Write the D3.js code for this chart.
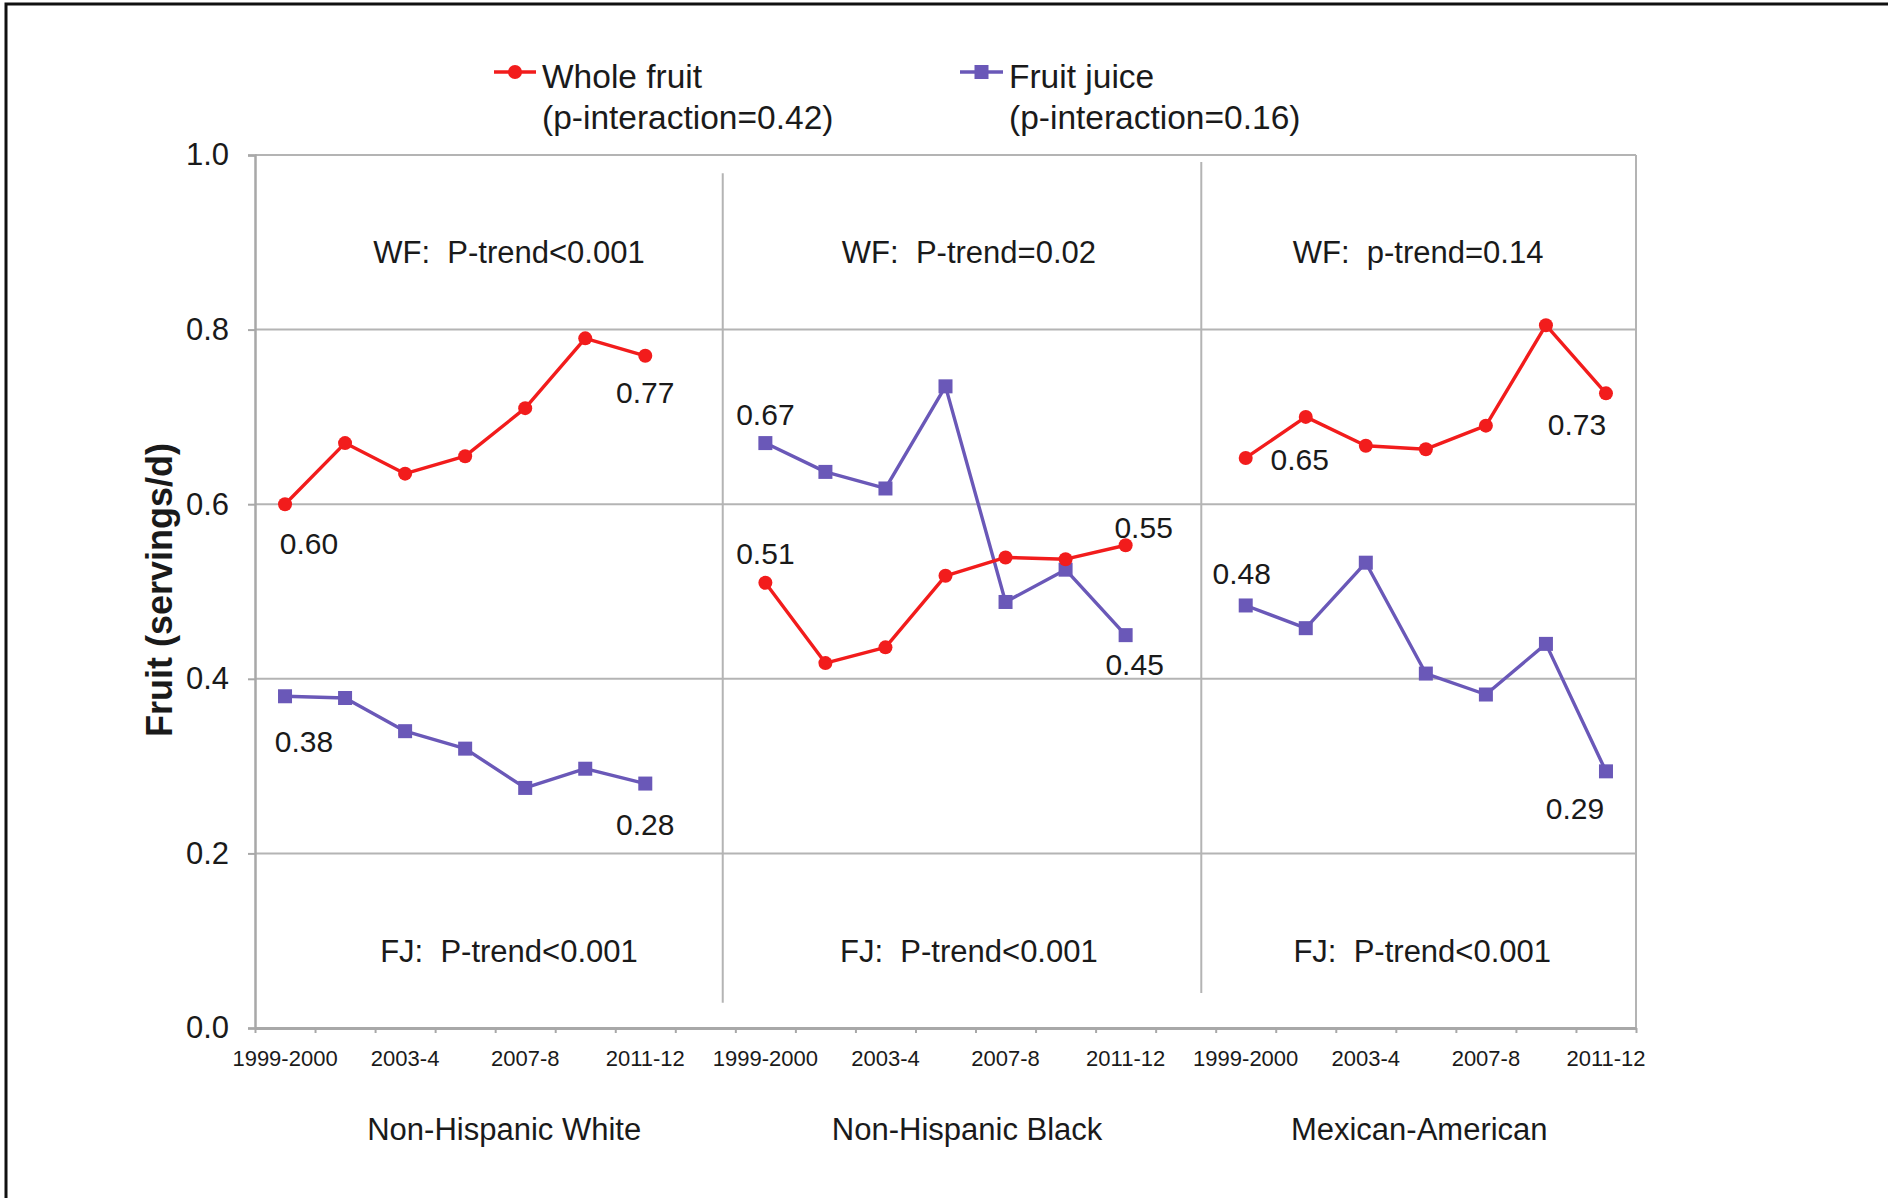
<!DOCTYPE html>
<html>
<head>
<meta charset="utf-8">
<script src="https://cdn.jsdelivr.net/npm/d3@7"></script>
<style>
  html, body { margin: 0; padding: 0; background: #fff; }
  svg { display: block; }
  text { font-family: "Liberation Sans", Arial, sans-serif; fill: #1a1a1a; white-space: pre; }
</style>
</head>
<body>
<svg id="chart" width="1888" height="1198"></svg>
<script>
// ---------------- data ----------------
const surveyYears = ["1999-2000", "2001-2", "2003-4", "2005-6", "2007-8", "2009-10", "2011-12"];
const groups = ["Non-Hispanic White", "Non-Hispanic Black", "Mexican-American"];
const wholeFruit = [
  [0.60, 0.67, 0.635, 0.655, 0.71, 0.79, 0.77],
  [0.51, 0.418, 0.436, 0.518, 0.539, 0.537, 0.553],
  [0.653, 0.70, 0.667, 0.663, 0.69, 0.805, 0.727]
];
const fruitJuice = [
  [0.38, 0.378, 0.34, 0.32, 0.275, 0.297, 0.28],
  [0.67, 0.637, 0.618, 0.735, 0.488, 0.525, 0.45],
  [0.484, 0.458, 0.533, 0.406, 0.382, 0.44, 0.294]
];
const wfTrend = ["WF:  P-trend<0.001", "WF:  P-trend=0.02", "WF:  p-trend=0.14"];
const fjTrend = ["FJ:  P-trend<0.001", "FJ:  P-trend<0.001", "FJ:  P-trend<0.001"];
const legendLabels = [
  ["Whole fruit", "(p-interaction=0.42)"],
  ["Fruit juice", "(p-interaction=0.16)"]
];
const yTicks = [0, 0.2, 0.4, 0.6, 0.8, 1.0];
const yTitle = "Fruit (servings/d)";

// ---------------- layout ----------------
const W = 1888, H = 1198;
const L = 255, R = 1636, T = 155, B = 1028;
const RED = "#f21c1c", PURPLE = "#6a58b8", GRID = "#b4b4b4", AXIS = "#a8a8a8";
const nPer = surveyYears.length;          // 7
const nSlots = groups.length * (nPer + 1) - 1; // 23 (blank slot between panels)

const svg = d3.select("#chart");

// outer frame
svg.append("path")
  .attr("d", `M6,${H + 5} L6,4 L${W + 5},4`)
  .attr("fill", "none").attr("stroke", "#111").attr("stroke-width", 3);

const slots = d3.range(nSlots);
const slotLabel = slots.map(i => {
  const k = i % (nPer + 1);
  return (k < nPer && k % 2 === 0) ? surveyYears[k] : "";
});
const x = d3.scaleBand().domain(slots).range([L, R]).padding(0);
const xi = d3.scaleLinear().domain([0, nSlots]).range([L, R]);
const y = d3.scaleLinear().domain([0, 1]).range([B, T]);
const slotOf = (g, k) => g * (nPer + 1) + k;
const cx = (g, k) => x(slotOf(g, k)) + x.bandwidth() / 2;

// gridlines
svg.append("g").selectAll("line").data(yTicks.filter(v => v > 0)).join("line")
  .attr("x1", L).attr("x2", R).attr("y1", d => y(d)).attr("y2", d => y(d))
  .attr("stroke", GRID).attr("stroke-width", 2);

// right border of plot area
svg.append("line").attr("x1", R).attr("x2", R).attr("y1", T).attr("y2", B)
  .attr("stroke", GRID).attr("stroke-width", 2);

// panel dividers
const dividers = [
  { pos: 7.79, y0: 0.979, y1: 0.029 },
  { pos: 15.76, y0: 0.992, y1: 0.040 }
];
svg.append("g").selectAll("line").data(dividers).join("line")
  .attr("x1", d => xi(d.pos)).attr("x2", d => xi(d.pos))
  .attr("y1", d => y(d.y0)).attr("y2", d => y(d.y1))
  .attr("stroke", GRID).attr("stroke-width", 2);

// y axis
const yAxis = svg.append("g").attr("transform", `translate(${L},0)`)
  .call(d3.axisLeft(y).tickValues(yTicks).tickFormat(d3.format(".1f")).tickSize(7).tickPadding(19));
yAxis.select(".domain").attr("stroke", AXIS).attr("stroke-width", 2.5);
yAxis.selectAll(".tick line").attr("stroke", AXIS).attr("stroke-width", 2);
yAxis.selectAll(".tick text").style("font-size", "31px").attr("fill", "#1a1a1a")
  .style("font-family", "'Liberation Sans', Arial, sans-serif");

// x axis ticks at slot boundaries
const xTickAxis = svg.append("g").attr("transform", `translate(0,${B})`)
  .call(d3.axisBottom(xi).tickValues(d3.range(nSlots + 1)).tickFormat("").tickSize(5).tickSizeOuter(0));
xTickAxis.select(".domain").attr("stroke", AXIS).attr("stroke-width", 3);
xTickAxis.selectAll(".tick line").attr("stroke", AXIS).attr("stroke-width", 2);

// x axis labels
const xLab = svg.append("g").attr("transform", `translate(0,${B})`)
  .call(d3.axisBottom(x).tickFormat(i => slotLabel[i]).tickSize(0).tickPadding(22));
xLab.select(".domain").remove();
xLab.selectAll(".tick text").style("font-size", "22px").attr("fill", "#1a1a1a")
  .style("font-family", "'Liberation Sans', Arial, sans-serif");

// y title
svg.append("text")
  .attr("transform", `translate(159,590) rotate(-90)`)
  .attr("text-anchor", "middle").attr("dominant-baseline", "central")
  .style("font-size", "36px").style("font-weight", "bold")
  .text(yTitle);

// group labels
const groupPos = [4.15, 11.86, 19.39];
svg.append("g").selectAll("text").data(groups).join("text")
  .attr("x", (d, i) => xi(groupPos[i])).attr("y", 1129)
  .attr("text-anchor", "middle").attr("dominant-baseline", "central")
  .style("font-size", "31px").text(d => d);

// trend annotations
const wfPos = [4.23, 11.89, 19.37], fjPos = [4.23, 11.89, 19.44];
svg.append("g").selectAll("text").data(wfTrend).join("text")
  .attr("x", (d, i) => xi(wfPos[i])).attr("y", y(0.888))
  .attr("text-anchor", "middle").attr("dominant-baseline", "central")
  .style("font-size", "31px").text(d => d);
svg.append("g").selectAll("text").data(fjTrend).join("text")
  .attr("x", (d, i) => xi(fjPos[i])).attr("y", y(0.088))
  .attr("text-anchor", "middle").attr("dominant-baseline", "central")
  .style("font-size", "31px").text(d => d);

// series lines + markers
const line = d3.line().x(d => d[0]).y(d => d[1]);
function drawSeries(values, color, shape) {
  values.forEach((vals, g) => {
    const pts = vals.map((v, k) => [cx(g, k), y(v)]);
    svg.append("path").attr("d", line(pts)).attr("fill", "none")
      .attr("stroke", color).attr("stroke-width", 3.4).attr("stroke-linejoin", "round");
    const gm = svg.append("g");
    if (shape === "circle") {
      gm.selectAll("circle").data(pts).join("circle")
        .attr("cx", d => d[0]).attr("cy", d => d[1]).attr("r", 7).attr("fill", color);
    } else {
      gm.selectAll("rect").data(pts).join("rect")
        .attr("x", d => d[0] - 7).attr("y", d => d[1] - 7)
        .attr("width", 14).attr("height", 14).attr("fill", color);
    }
  });
}
drawSeries(fruitJuice, PURPLE, "square");
drawSeries(wholeFruit, RED, "circle");

// data labels (first and last point of each line)
const labelSpecs = [
  { s: wholeFruit, g: 0, k: 0, dx: 24, dy: 39 },
  { s: wholeFruit, g: 0, k: 6, dx: 0, dy: 37 },
  { s: fruitJuice, g: 0, k: 0, dx: 19, dy: 45 },
  { s: fruitJuice, g: 0, k: 6, dx: 0, dy: 41 },
  { s: fruitJuice, g: 1, k: 0, dx: 0, dy: -29 },
  { s: wholeFruit, g: 1, k: 0, dx: 0, dy: -29 },
  { s: wholeFruit, g: 1, k: 6, dx: 18, dy: -18 },
  { s: fruitJuice, g: 1, k: 6, dx: 9, dy: 29 },
  { s: wholeFruit, g: 2, k: 0, dx: 54, dy: 2 },
  { s: wholeFruit, g: 2, k: 6, dx: -29, dy: 31 },
  { s: fruitJuice, g: 2, k: 0, dx: -4, dy: -32 },
  { s: fruitJuice, g: 2, k: 6, dx: -31, dy: 37 }
];
svg.append("g").selectAll("text").data(labelSpecs).join("text")
  .attr("x", d => cx(d.g, d.k) + d.dx).attr("y", d => y(d.s[d.g][d.k]) + d.dy)
  .attr("text-anchor", "middle").attr("dominant-baseline", "central")
  .style("font-size", "30px").text(d => d.s[d.g][d.k].toFixed(2));

// legend
const legendItems = [
  { x0: 494, x1: 536, tx: 542, color: RED, shape: "circle", lines: legendLabels[0] },
  { x0: 960, x1: 1003, tx: 1009, color: PURPLE, shape: "square", lines: legendLabels[1] }
];
const lg = svg.append("g");
legendItems.forEach(it => {
  const ly = 72;
  lg.append("line").attr("x1", it.x0).attr("x2", it.x1).attr("y1", ly).attr("y2", ly)
    .attr("stroke", it.color).attr("stroke-width", 3.4);
  const mx = (it.x0 + it.x1) / 2;
  if (it.shape === "circle") lg.append("circle").attr("cx", mx).attr("cy", ly).attr("r", 7).attr("fill", it.color);
  else lg.append("rect").attr("x", mx - 7).attr("y", ly - 7).attr("width", 14).attr("height", 14).attr("fill", it.color);
  it.lines.forEach((t, j) => {
    lg.append("text").attr("x", it.tx).attr("y", 76 + j * 41)
      .attr("dominant-baseline", "central").style("font-size", "33.5px").text(t);
  });
});
</script>
</body>
</html>
